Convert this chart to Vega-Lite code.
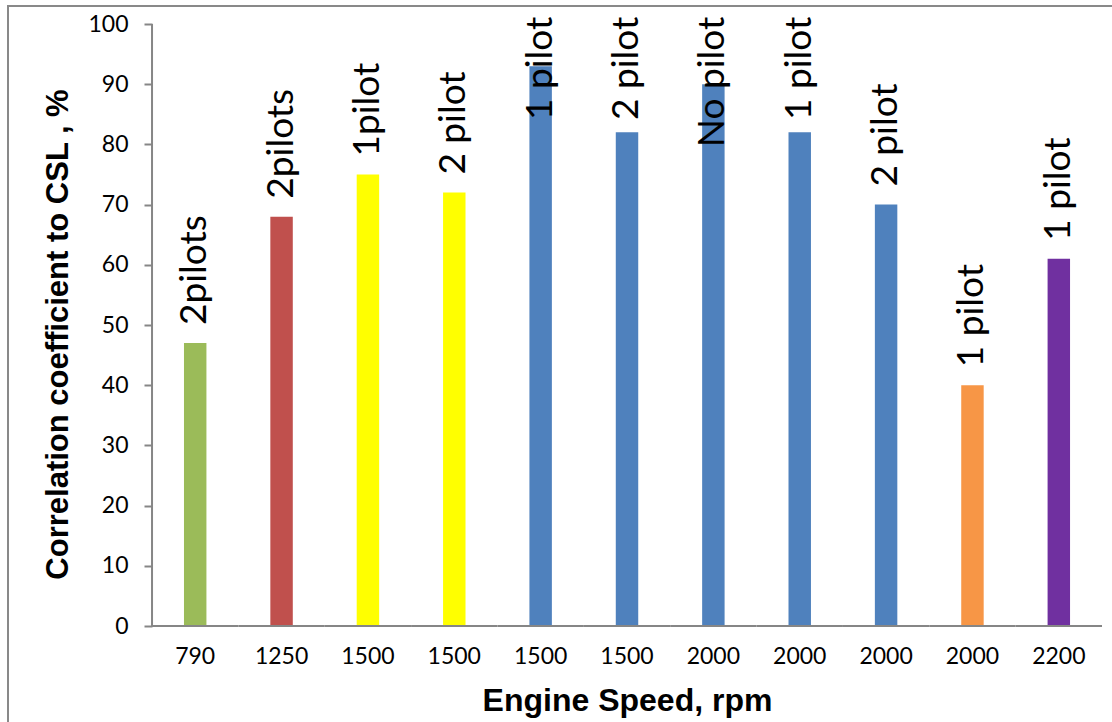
{
  "$schema": "https://vega.github.io/schema/vega-lite/v6.json",
  "width": 1110,
  "height": 720,
  "autosize": "none",
  "padding": {"left": 8, "top": 6, "right": 0, "bottom": 0},
  "background": "white",
  "config": {"view": {"stroke": "#898989", "strokeWidth": 2}, "font": "Lato"},
  "data": {
    "values": [
      {"test": "790|1", "value": 47, "pilot": "2pilots"},
      {"test": "1250|2", "value": 68, "pilot": "2pilots"},
      {"test": "1500|3", "value": 75, "pilot": "1pilot"},
      {"test": "1500|4", "value": 72, "pilot": "2 pilot"},
      {"test": "1500|5", "value": 93, "pilot": "1 pilot"},
      {"test": "1500|6", "value": 82, "pilot": "2 pilot"},
      {"test": "2000|7", "value": 90, "pilot": "No pilot"},
      {"test": "2000|8", "value": 82, "pilot": "1 pilot"},
      {"test": "2000|9", "value": 70, "pilot": "2 pilot"},
      {"test": "2000|10", "value": 40, "pilot": "1 pilot"},
      {"test": "2200|11", "value": 61, "pilot": "1 pilot"}
    ]
  },
  "encoding": {
    "x": {
      "field": "test",
      "type": "nominal",
      "sort": null,
      "scale": {"paddingInner": 0, "paddingOuter": 0.9265, "align": 0.9},
      "axis": {
        "title": "Engine Speed, rpm",
        "labelExpr": "split(datum.label, '|')[0]",
        "labelAngle": 0,
        "ticks": false,
        "domain": false,
        "offset": -100,
        "labelFont": "Lato",
        "labelFontSize": 23,
        "labelColor": "black",
        "labelPadding": 19,
        "titleFont": "Liberation Sans",
        "titleFontSize": 32,
        "titleFontWeight": "bold",
        "titleColor": "black",
        "titlePadding": 17,
        "titleX": 619
      }
    },
    "y": {
      "field": "value",
      "type": "quantitative",
      "scale": {"domain": [-16.61, 102.99], "nice": false, "zero": false},
      "axis": {
        "title": "Correlation coefficient to CSL , %",
        "values": [0, 10, 20, 30, 40, 50, 60, 70, 80, 90, 100],
        "grid": false,
        "domain": false,
        "offset": -144,
        "tickSize": 8,
        "tickColor": "#868686",
        "tickWidth": 2,
        "labelFont": "Lato",
        "labelFontSize": 23,
        "labelColor": "black",
        "labelPadding": 16,
        "titleFont": "Liberation Sans",
        "titleFontSize": 31,
        "titleFontWeight": "bold",
        "titleColor": "black",
        "titlePadding": 13,
        "titleY": 328
      }
    }
  },
  "layer": [
    {
      "mark": {"type": "bar", "width": {"band": 0.26}},
      "encoding": {
        "y2": {"datum": 0},
        "color": {
          "field": "test",
          "type": "nominal",
          "sort": null,
          "legend": null,
          "scale": {
            "domain": ["790|1", "1250|2", "1500|3", "1500|4", "1500|5", "1500|6", "2000|7", "2000|8", "2000|9", "2000|10", "2200|11"],
            "range": ["#9BBB59", "#C0504D", "#FFFF00", "#FFFF00", "#4F81BD", "#4F81BD", "#4F81BD", "#4F81BD", "#4F81BD", "#F79646", "#7030A0"]
          }
        }
      }
    },
    {
      "transform": [{"filter": "datum.test == '790|1'"}],
      "mark": {"type": "rule", "color": "#868686", "strokeWidth": 2},
      "encoding": {
        "x": {"field": "test", "type": "nominal", "bandPosition": 0},
        "y": {"datum": 0, "type": "quantitative"},
        "y2": {"datum": 100}
      }
    },
    {
      "mark": {"type": "rule", "color": "#868686", "strokeWidth": 2},
      "encoding": {
        "x": {"field": "test", "type": "nominal", "bandPosition": 0},
        "x2": {"field": "test", "bandPosition": 1},
        "y": {"datum": 0, "type": "quantitative"}
      }
    },
    {
      "transform": [{"filter": "datum.value <= 78"}],
      "mark": {"type": "text", "angle": 270, "align": "left", "baseline": "middle", "dx": 18, "font": "Lato", "fontSize": 37, "color": "black"},
      "encoding": {"text": {"field": "pilot"}}
    },
    {
      "transform": [{"filter": "datum.value > 78"}],
      "mark": {"type": "text", "angle": 270, "align": "right", "baseline": "middle", "font": "Lato", "fontSize": 37, "color": "black"},
      "encoding": {
        "y": {"datum": 101.2, "type": "quantitative"},
        "text": {"field": "pilot"}
      }
    }
  ]
}
